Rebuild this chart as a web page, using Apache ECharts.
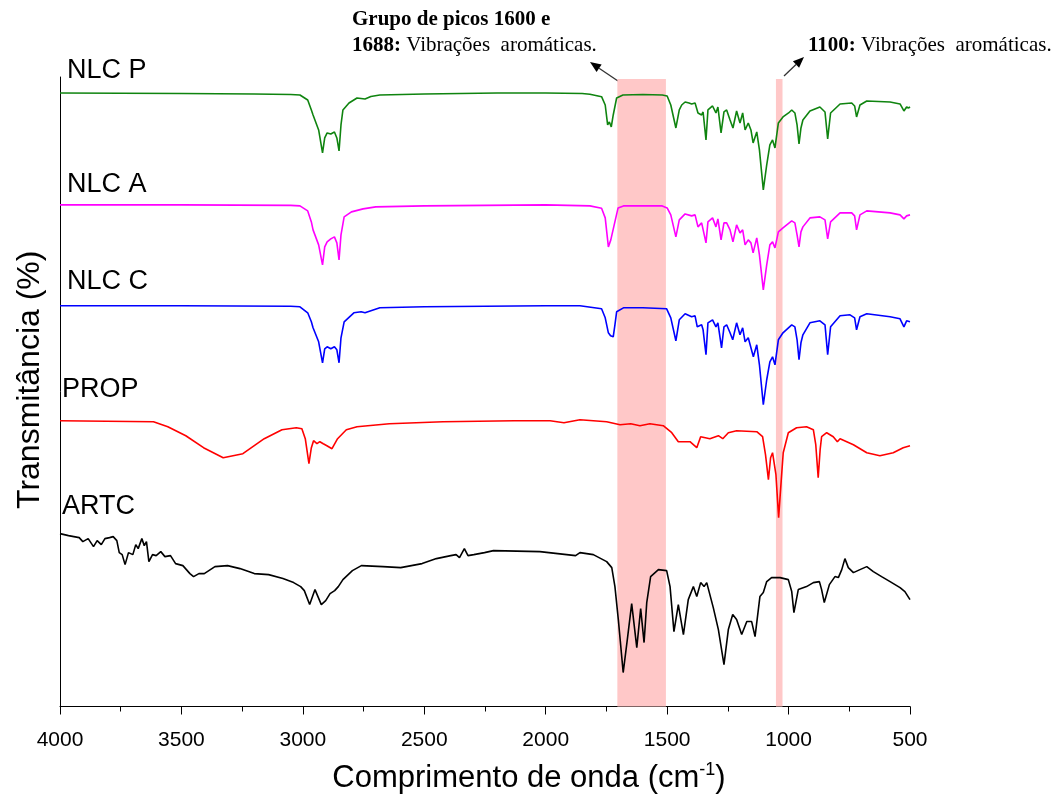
<!DOCTYPE html>
<html><head><meta charset="utf-8">
<script src="https://cdn.jsdelivr.net/npm/echarts@6/dist/echarts.min.js"></script>
<style>html,body{margin:0;padding:0;background:#fff}#c{width:1057px;height:799px}</style>
</head><body><div id="c"></div>
<script>
// Wavenumber (cm-1) vs transmittance (stacked, arbitrary units)
const xTicks = [4000, 3500, 3000, 2500, 2000, 1500, 1000, 500];
const seriesNames = ['NLC P', 'NLC A', 'NLC C', 'PROP', 'ARTC'];
const seriesColors = ['#0f840f', '#ff00ff', '#0000ff', '#ff0000', '#000000'];
const highlightBands = [[1705, 1505], [1052, 1025]];

const nlcP = [[4000,614],[3500,613.5],[3200,613],[3050,612.5],[3012,612],[2980,607],[2965,597],[2958,592],[2950,594],[2935,577],[2919,554],[2910,569],[2900,574],[2885,573],[2870,575],[2860,569],[2851,556],[2843,582],[2835,597],[2810,604],[2777,609],[2744,608],[2720,610.5],[2683,612],[2500,613],[2200,614],[2000,614],[1850,613.5],[1818,612.7],[1770,610.3],[1755,602],[1745,582],[1738,585],[1730,580],[1722,592],[1708,609],[1682,612],[1600,612.5],[1520,612],[1500,611],[1485,602],[1464,579],[1450,597],[1440,602],[1426,605],[1410,604],[1399,603],[1385,604],[1373,594],[1358,592],[1352,595],[1340,567],[1332,597],[1313,601],[1299,594],[1291,600],[1278,574],[1266,595],[1255,597],[1241,587],[1229,579],[1214,596],[1200,584],[1189,594],[1179,577],[1166,584],[1155,577],[1146,564],[1131,575],[1120,557],[1104,517],[1090,542],[1077,562],[1066,567],[1056,559],[1042,584],[1023,590],[1000,594],[987,597],[974,594],[965,582],[957,563],[949,579],[941,587],[912,596],[871,600],[850,595],[839,568],[827,594],[788,603],[740,604],[728,601],[720,590],[706,602],[678,606],[582,605],[541,603],[525,596],[514,600],[505,599],[500,600]];

const nlcA = [[4000,502],[3500,502],[3050,501.5],[3012,501],[2980,496],[2965,485],[2958,477],[2950,479],[2935,462],[2919,442],[2910,460],[2900,465],[2885,468],[2870,470],[2860,464],[2851,447],[2843,472],[2830,490],[2800,495],[2752,498],[2700,500],[2500,501],[2000,502],[1818,501],[1770,498.7],[1755,489],[1742,460],[1732,467],[1725,465],[1718,482],[1702,499],[1680,501],[1520,501],[1500,499],[1485,492],[1464,470],[1450,487],[1426,493],[1399,491],[1385,492],[1373,480],[1358,484],[1340,464],[1332,485],[1313,489],[1299,480],[1291,488],[1278,467],[1266,484],[1255,484],[1241,477],[1229,465],[1214,482],[1200,474],[1189,477],[1179,462],[1166,467],[1155,464],[1146,454],[1131,469],[1120,452],[1104,417],[1090,442],[1077,462],[1066,465],[1056,459],[1042,475],[1023,479],[987,486],[974,484],[965,472],[957,460],[949,475],[941,480],[912,489],[871,490],[850,487],[839,468],[827,485],[788,494],[740,494],[728,491],[720,477],[706,492],[678,496],[582,494],[541,492],[525,488],[514,491],[500,492]];

const nlcC = [[4000,401],[3500,401],[3050,400.5],[3012,400],[2980,394],[2965,385],[2958,379],[2950,381],[2935,365],[2919,344],[2910,358],[2900,360],[2885,358],[2870,360],[2860,357],[2851,344],[2843,369],[2830,385],[2790,394],[2760,395],[2744,394],[2683,399],[2500,400],[2000,401],[1859,401],[1770,398],[1755,389],[1742,374],[1733,371],[1722,370],[1715,382],[1708,395],[1680,399],[1600,399],[1502,398],[1485,389],[1464,366],[1450,387],[1426,393],[1399,390],[1385,391],[1376,380],[1358,382],[1352,377],[1340,352],[1332,384],[1313,387],[1299,380],[1291,384],[1276,359],[1266,380],[1255,382],[1241,374],[1230,367],[1214,384],[1200,372],[1189,379],[1179,365],[1166,369],[1145,350],[1131,362],[1120,342],[1104,302],[1090,327],[1077,345],[1066,350],[1056,342],[1042,367],[1023,374],[987,382],[974,380],[965,367],[957,347],[949,364],[941,372],[912,384],[871,386],[850,382],[839,352],[827,380],[788,391],[747,392],[728,389],[720,377],[706,390],[678,393],[582,390],[541,388],[525,380],[514,386],[500,385]];

const prop = [[4000,286],[3615,285],[3556,280],[3482,271],[3409,259],[3328,249],[3247,253],[3159,268],[3086,277],[3027,279],[3004,278],[2990,268],[2975,243],[2965,259],[2956,266],[2942,263],[2930,265],[2916,263],[2901,261],[2880,258],[2857,268],[2821,277],[2777,280],[2644,283],[2423,285],[2130,286],[1982,286],[1925,284],[1859,287],[1749,285],[1694,282],[1650,283],[1612,281],[1571,283],[1516,281],[1481,274],[1454,265],[1406,265],[1378,259],[1362,270],[1324,268],[1289,271],[1271,268],[1248,274],[1214,276],[1131,275],[1107,270],[1095,252],[1083,227],[1074,249],[1066,254],[1052,232],[1041,189],[1030,227],[1022,254],[1001,274],[967,279],[926,280],[898,277],[888,262],[878,229],[870,257],[864,270],[843,274],[816,270],[799,265],[788,268],[733,262],[678,254],[624,251],[569,254],[528,259],[500,261]];

const artc = [[4000,173],[3965,171],[3921,169],[3906,165],[3884,168],[3862,160],[3847,166],[3830,162],[3815,168],[3796,169],[3781,170],[3766,166],[3756,154],[3744,152],[3732,142],[3718,154],[3700,152],[3688,162],[3678,158],[3663,168],[3653,161],[3644,165],[3634,145],[3619,152],[3604,151],[3585,155],[3568,150],[3545,151],[3524,143],[3494,141],[3465,133],[3450,130],[3428,133],[3406,133],[3362,140],[3310,141],[3259,138],[3200,133],[3141,132],[3082,128],[3038,124],[3009,120],[2994,116],[2972,102],[2950,117],[2924,102],[2906,106],[2888,113],[2869,116],[2854,120],[2835,127],[2796,136],[2759,141],[2670,140],[2597,139],[2509,143],[2450,148],[2391,151],[2369,152],[2355,149],[2335,158],[2320,151],[2296,152],[2252,154],[2215,156],[2024,155],[1877,151],[1859,154],[1804,152],[1749,145],[1728,139],[1715,120],[1701,87],[1681,34],[1664,67],[1646,103],[1625,59],[1609,98],[1595,64],[1584,104],[1568,130],[1536,137],[1502,136],[1488,120],[1472,75],[1454,102],[1433,72],[1413,107],[1392,120],[1378,110],[1362,124],[1348,120],[1337,124],[1310,99],[1289,77],[1266,42],[1248,77],[1230,92],[1214,87],[1193,72],[1172,85],[1152,85],[1138,70],[1118,110],[1104,114],[1090,125],[1070,129],[1035,129],[1001,127],[987,115],[978,94],[960,117],[926,120],[898,124],[873,125],[864,117],[853,104],[832,122],[809,130],[795,129],[781,137],[768,148],[754,139],[733,134],[706,137],[678,140],[651,135],[617,130],[582,125],[541,119],[521,115],[500,107]];

const seriesData = [nlcP, nlcA, nlcC, prop, artc];

const chart = echarts.init(document.getElementById('c'), null, {renderer: 'canvas'});

function arrow(x1, y1, x2, y2) {
  const dx = x2 - x1, dy = y2 - y1, L = Math.hypot(dx, dy);
  const ux = dx / L, uy = dy / L, hl = 11, hw = 4.5;
  const bx = x2 - ux * hl, by = y2 - uy * hl;
  return [
    {type: 'line', shape: {x1: x1, y1: y1, x2: bx, y2: by}, style: {stroke: '#333', lineWidth: 1.3}},
    {type: 'polygon', shape: {points: [[x2, y2], [bx - uy * hw, by + ux * hw], [bx + uy * hw, by - ux * hw]]}, style: {fill: '#000'}}
  ];
}

const labelPos = [[67, 72], [67, 186], [67, 283], [62, 391], [62, 508]];
const sansFont = 'Liberation Sans, Arial, sans-serif';
const serifFont = 'Liberation Serif, Times New Roman, serif';

const graphics = [];
seriesNames.forEach((n, i) => {
  graphics.push({type: 'text', left: labelPos[i][0], top: labelPos[i][1] - 15,
    style: {text: n, font: '27px ' + sansFont, fill: '#000'}});
});
const rich = {b: {fontFamily: serifFont, fontWeight: 'bold', fontSize: 21, lineHeight: 26, fill: '#000'},
              n: {fontFamily: serifFont, fontSize: 21, lineHeight: 26, fill: '#000'}};
graphics.push({type: 'text', left: 352, top: 9,
  style: {text: '{b|Grupo de picos 1600 e}\n{b|1688:}{n| Vibrações  aromáticas.}', rich: rich}});
graphics.push({type: 'text', left: 808, top: 35,
  style: {text: '{b|1100:}{n| Vibrações  aromáticas.}', rich: rich}});
arrow(618, 81, 590, 62).forEach(g => graphics.push(g));
arrow(784, 76, 804, 57).forEach(g => graphics.push(g));

const series = [{
  type: 'line', data: [], silent: true, z: 1,
  markArea: {silent: true, itemStyle: {color: '#ffc8c8', opacity: 1},
    data: highlightBands.map(b => [{xAxis: b[0], yAxis: 0}, {xAxis: b[1], yAxis: 628}])}
}];
seriesNames.forEach((n, i) => {
  series.push({name: n, type: 'line', data: seriesData[i], showSymbol: false, symbol: 'none',
    z: 3, lineStyle: {color: seriesColors[i], width: 1.6}, itemStyle: {color: seriesColors[i]}, animation: false});
});

chart.setOption({
  animation: false,
  backgroundColor: '#fff',
  grid: {left: 60, right: 147, top: 77, bottom: 92, containLabel: false},
  xAxis: {
    type: 'value', inverse: true, min: 500, max: 4000, interval: 500,
    name: '{a|Comprimento de onda (cm}{s|-1}{a|)}', nameLocation: 'middle', nameGap: 55,
    nameTextStyle: {padding: [0, 0, 0, 88], rich: {a: {fontFamily: sansFont, fontSize: 31, color: '#000'},
                           s: {fontFamily: sansFont, fontSize: 18, color: '#000', padding: [0, 0, 16, 0]}}},
    axisLine: {show: true, lineStyle: {color: '#000', width: 1}},
    axisTick: {show: true, length: 8, lineStyle: {color: '#000'}},
    minorTick: {show: true, splitNumber: 2, length: 5, lineStyle: {color: '#000'}},
    splitLine: {show: false},
    axisLabel: {color: '#000', fontFamily: sansFont, fontSize: 21, margin: 23,
      customValues: xTicks, formatter: v => String(v)}
  },
  yAxis: {
    type: 'value', min: 0, max: 630,
    name: 'Transmitância (%)', nameLocation: 'middle', nameGap: 14,
    nameTextStyle: {fontFamily: sansFont, fontSize: 32, color: '#000', padding: [0, 0, 0, 24]},
    axisLine: {show: true, lineStyle: {color: '#000', width: 1}},
    axisTick: {show: false}, axisLabel: {show: false}, splitLine: {show: false}
  },
  series: series,
  graphic: graphics
});
</script></body></html>
